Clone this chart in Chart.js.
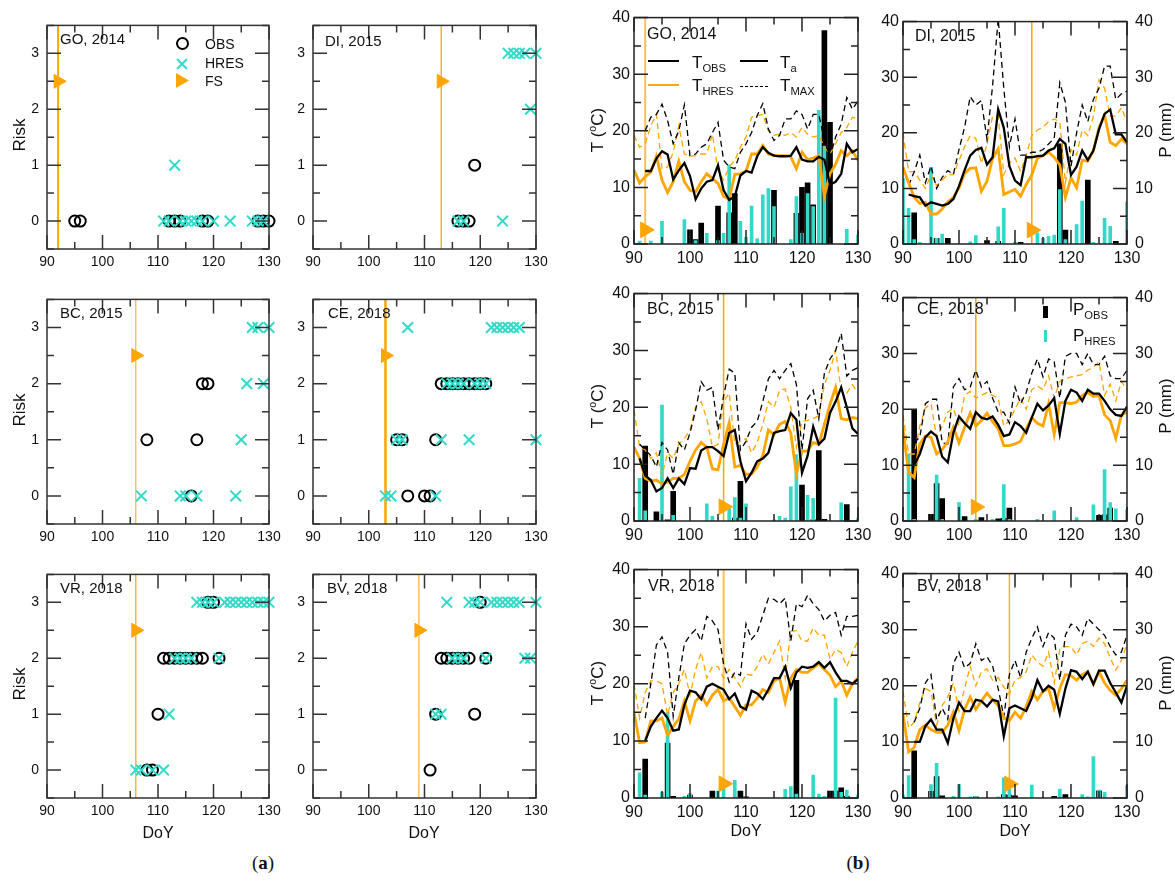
<!DOCTYPE html>
<html>
<head>
<meta charset="utf-8">
<title>Risk, temperature and precipitation</title>
<script src="https://cdn.jsdelivr.net/npm/chart.js@4.4.1/dist/chart.umd.min.js"></script>
<style>
  html, body { margin: 0; padding: 0; background: #fff; }
  #wrap { position: relative; width: 1175px; height: 881px; overflow: hidden;
          font-family: "Liberation Sans", Arial, Helvetica, sans-serif; color: #111; }
  #wrap canvas { position: absolute; }
  .lbl { position: absolute; white-space: nowrap; line-height: 1; z-index: 2; }
  .ctr { transform: translate(-50%, -50%); }
  .rot { transform: translate(-50%, -50%) rotate(-90deg); }
  .sw { position: absolute; z-index: 2; }
  sub { font-size: 0.66em; vertical-align: -0.35em; line-height: 0; }
  sup { font-size: 0.62em; vertical-align: 0.6em; line-height: 0; }
  .cap { font-family: "Liberation Serif", "Times New Roman", serif; }
</style>
</head>
<body>
<div id="wrap"></div>
<script>
const ORANGE = '#FFA500';
const CYAN = '#33D9C8';
const FONT = '"Liberation Sans", Arial, Helvetica, sans-serif';

// tick labels
const doyTicks = [90, 100, 110, 120, 130];
const riskTicks = [0, 1, 2, 3];
const tTicks = [0, 10, 20, 30, 40];

// ---------------- (a) risk levels: [DoY, risk] ----------------
const riskMin = -0.5, riskMax = 3.5;

const goFS = 92;
const goRiskObs  = [[95,0],[96,0],[112,0],[113,0],[114,0],[118,0],[119,0],[128,0],[129,0],[130,0]];
const goRiskHres = [[111,0],[112,0],[113,1],[114,0],[115,0],[116,0],[117,0],[118,0],[120,0],[123,0],[127,0],[128,0],[129,0]];

const diFS = 113;
const diRiskObs  = [[116,0],[117,0],[118,0],[119,1]];
const diRiskHres = [[116,0],[117,0],[124,0],[125,3],[126,3],[127,3],[128,3],[129,2],[130,3]];

const bcFS = 106;
const bcRiskObs  = [[108,1],[116,0],[117,1],[118,2],[119,2]];
const bcRiskHres = [[107,0],[114,0],[115,0],[117,0],[124,0],[125,1],[126,2],[127,3],[128,3],[129,2],[130,3]];

const ceFS = 103;
const ceRiskObs  = [[105,1],[106,1],[107,0],[110,0],[111,0],[112,1],[113,2],[114,2],[115,2],[116,2],[117,2],[118,2],[119,2],[120,2],[121,2]];
const ceRiskHres = [[103,0],[104,0],[105,1],[106,1],[107,3],[112,0],[113,1],[114,2],[115,2],[116,2],[117,2],[118,1],[119,2],[120,2],[121,2],[122,3],[123,3],[124,3],[125,3],[126,3],[127,3],[130,1]];

const vrFS = 106;
const vrRiskObs  = [[108,0],[109,0],[110,1],[111,2],[112,2],[113,2],[114,2],[115,2],[116,2],[117,2],[118,2],[119,3],[120,3],[121,2]];
const vrRiskHres = [[106,0],[107,0],[109,0],[111,0],[112,1],[113,2],[114,2],[115,2],[116,2],[117,3],[118,3],[119,3],[120,3],[121,2],[122,3],[123,3],[124,3],[125,3],[126,3],[127,3],[128,3],[129,3],[130,3]];

const bvFS = 109;
const bvRiskObs  = [[111,0],[112,1],[113,2],[114,2],[115,2],[116,2],[117,2],[118,2],[119,1],[120,3],[121,2]];
const bvRiskHres = [[112,1],[113,1],[114,3],[115,2],[116,2],[117,2],[118,3],[119,3],[120,3],[121,2],[122,3],[123,3],[124,3],[125,3],[126,3],[127,3],[128,2],[129,2],[130,3]];

// ---------------- (b) temperature (°C) per day, precipitation [DoY, mm] ----------------
const days = [90,91,92,93,94,95,96,97,98,99,100,101,102,103,104,105,106,107,108,109,110,
              111,112,113,114,115,116,117,118,119,120,121,122,123,124,125,126,127,128,129,130];

const goTobs  = [null,null,12.9,12.9,15.1,16.4,15.8,11.4,13.0,14.3,12.0,7.9,9.8,11.0,11.3,13.9,9.5,7.8,8.4,12.1,12.9,12.6,15.5,17.1,16.1,15.6,15.5,15.5,15.6,17.1,14.9,14.6,14.6,15.4,14.9,10.5,11.0,12.4,17.7,16.2,16.8];
const goThres = [13.1,10.8,11.9,12.7,15.5,11.3,9.1,11.0,14.6,11.0,9.5,9.2,11.0,12.4,11.6,10.7,8.4,7.9,12.3,12.4,12.9,15.9,15.9,17.4,15.9,15.6,15.6,15.6,15.4,13.3,16.2,14.9,15.2,15.6,8.5,12.4,14.1,16.5,15.6,16.5,14.8];
const goTmax  = [null,null,20.0,22.4,22.9,24.7,21.8,17.7,20.0,24.6,15.6,15.9,17.1,17.7,19.7,21.5,14.8,13.6,13.3,16.2,17.7,19.7,22.7,24.8,20.3,18.3,19.2,22.1,22.1,23.5,22.9,20.3,22.9,22.9,18.3,15.4,18.9,21.2,25.9,23.8,25.3];
const goThmax = [19.2,17.1,17.7,20.9,22.9,13.3,13.6,16.2,20.9,15.9,15.5,15.6,15.9,15.9,19.4,13.0,11.3,13.6,14.8,17.1,18.9,22.4,22.7,22.9,20.0,19.2,19.4,19.2,19.7,18.9,20.6,19.4,18.9,19.2,17.1,15.9,17.7,19.7,20.6,22.4,22.1];
const goPobs  = [[100,2.5],[101,0.8],[102,3.7],[105,6.7],[107,5.5],[108,8.9],[115,9.5],[119,5.4],[120,10.0],[121,10.8],[122,6.9],[124,37.7],[125,21.5]];
const goPhres = [[91,0.5],[93,0.5],[95,4.0],[99,4.3],[101,0.6],[103,1.9],[105,0.6],[106,1.9],[107,14.0],[109,4.0],[110,1.2],[111,6.7],[112,0.9],[113,8.7],[114,9.8],[115,6.6],[118,0.8],[119,8.4],[120,1.9],[121,8.9],[122,6.6],[123,23.6],[124,17.3],[128,2.6],[130,1.6]];

const diTobs  = [null,8.9,8.6,8.4,6.9,7.5,7.2,6.9,7.2,8.1,10.4,13.3,15.9,16.9,17.3,14.3,15.6,24.2,20.9,14.0,11.4,10.6,15.6,15.6,15.8,15.9,16.8,17.2,18.9,18.0,12.4,13.9,16.8,15.1,16.8,20.6,23.4,24.2,19.7,19.7,18.3];
const diThres = [13.8,11.0,8.4,7.3,7.5,5.4,5.4,6.3,7.6,8.4,10.1,12.7,13.6,13.7,9.5,11.3,15.4,17.1,8.9,9.4,9.8,8.6,10.7,12.4,15.4,15.9,16.5,15.6,14.2,8.4,11.9,10.1,15.1,14.9,16.8,20.9,23.2,18.3,17.7,18.9,18.0];
const diTmax  = [null,10.5,13,16,11,14,10,12,13.2,12.5,17,21,26.5,25,25.8,18.8,28.5,40.5,28,17.5,22.5,16,16,16.5,16.5,17,18,19,29,25.5,14,20,25,22,26,28,32,32,26,27,27.5];
const diThmax = [20,13,13,11.5,10,12.5,10.5,11.5,12.5,12.5,15,17.5,19.5,19,14.5,18,23,23,12.5,14.5,15.5,13,16,19.5,20.5,21,22,22.5,22,11,17,16,20.5,19.5,23,29.5,28,23,23,24.5,22];
const diPobs  = [[92,5.6],[96,1.0],[98,1.0],[105,0.6],[107,0.5],[111,0.3],[118,18.0],[119,2.5],[123,11.5],[128,0.5]];
const diPhres = [[90,11.8],[91,6.4],[92,0.8],[93,0.3],[95,13.8],[96,1.0],[97,1.8],[102,0.4],[103,1.5],[107,3.1],[108,6.4],[110,0.3],[114,2.0],[115,1.0],[116,1.4],[117,1.6],[118,9.8],[119,0.8],[121,3.5],[122,7.7],[124,0.3],[126,4.6],[127,3.2],[130,7.6]];

const bcTobs  = [null,11,8,7.2,5.2,5.8,7.5,5.8,7.5,6.5,9.3,9.2,12.4,13,13,12.3,11.4,15.5,16,10.5,7,8.5,10.5,11,12,15.5,15.8,16,19,17.8,8.5,11.5,16.6,13.5,14.5,19,21,23.5,20,16.3,15.3];
const bcThres = [13,11,7.5,7.0,7.2,6.5,6.8,7.5,7.5,8.2,10.5,12.5,13.8,13,9.2,9.0,13.5,17.3,9.5,9.8,8.2,8.3,9.5,11.5,16,15.2,17,17.5,15.5,8.2,12.3,12.3,13.8,13.5,17,20.5,23.5,18,17.8,18.2,18];
const bcTmax  = [null,13.5,12.5,11.5,9.5,13.8,12.5,8.2,13.8,12.5,15.5,19.5,24.5,23,23.5,16,22,26.7,26,12.5,14,16.5,17.5,21,25,26.5,25,26.5,27.7,24,12.5,21.5,23,18,26,28.5,30,33,25.5,26.5,27];
const bcThmax = [19.5,13,12.5,11,12,8,12,11,13.5,14.5,16,20,21,18,13,13.5,21,22.5,13.5,14,14.5,12,13.8,17,21,20,23,23.2,20,13,17.5,17.7,18,18.5,24,26.5,30,23,22.5,24,22.5];
const bcPobs  = [[92,13.2],[94,1.6],[96,0.2],[97,5.2],[108,0.5],[109,7.0],[120,6.3],[122,0.2],[123,12.4],[124,0.3],[128,2.9]];
const bcPhres = [[91,7.5],[92,1.8],[95,20.4],[97,1.0],[103,3.0],[104,0.8],[107,2.2],[108,4.1],[109,0.5],[110,3.0],[115,0.2],[116,0.8],[117,0.5],[118,6.0],[119,11.7],[121,4.5],[122,4.0],[127,3.2],[130,0.5]];

const ceTobs  = [null,null,10,12,15,16,15.2,11.5,10.5,15.8,18.7,17.5,16.5,19.5,18.5,18.2,18.7,17.2,15.2,15.5,17.7,17,15.8,18.5,21,19.8,20.7,22,15.6,21.5,23.5,23,21.5,23.5,22.8,22.8,21.5,20,19,18.8,20.5];
const ceThres = [16.5,8.7,7.8,13.8,15.2,15,12,12.8,14.2,16.8,14,16.8,19.3,17,18,19.3,17.8,16.5,13.5,13.5,13.8,14.3,16.5,18.5,17.5,17,21,15.5,21.2,21.2,21,21.3,22.5,23,22.3,22.5,19,18,14.8,19,19.5];
const ceTmax  = [null,null,14,15,21,21.8,21.8,14,13.8,24,25.5,23.5,24,27,24,25,22,19.5,19.5,17.5,24,21,23,26.5,29,25.8,29,28.5,22,29.5,30,30,28,30,28,28,29.5,26,25.5,25.5,27];
const ceThmax = [19,12,12,17,20.2,21,15,17,19.5,20.2,17,22.5,23.2,22,22.5,23,22.5,22,17,18,20,22,20,23.5,24.2,23.5,26,22,25,25.5,25.8,26,26.2,27,27.5,28.5,22.5,24.5,21.5,25,23.5];
const cePobs  = [[92,20],[95,1.2],[96,6.7],[97,4.0],[101,0.8],[104,0.6],[107,0.4],[108,0.5],[109,2.3],[125,1.0],[126,1.1],[127,2.3]];
const cePhres = [[91,12],[92,0.3],[96,8.2],[97,0.3],[100,3.3],[103,0.3],[106,0.3],[108,6.5],[109,0.3],[114,0.3],[117,1.8],[121,0.6],[124,2.9],[126,9.2],[127,3.3],[128,2.2],[130,2.0]];

const vrTobs  = [null,null,10,12.5,14,15.3,14,11.8,12,16.3,18.8,18.5,17.3,19.5,20,19.5,19,17.3,18.3,16,15.5,18.8,18.3,17.3,19,21,21,23,19.3,22,23,22.8,23,23.8,22.8,23.8,22,20.5,20.5,20,20.8];
const vrThres = [15,9.7,9.8,13.5,13.5,14,11,12.5,13.8,17,13.5,17,18,16.3,18,19,17,17.5,16,14.5,16.3,16.3,17.5,19,18.5,20.5,21,16.8,21,22.5,22,22,22.8,23.5,22.5,21.5,19.5,20.5,18,20,21];
const vrTmax  = [null,null,14,20,26.8,28.2,25.5,14.3,21,27,28.5,29.5,27.5,31.8,31,29.5,23.5,20.3,22,21.5,30.5,27.8,29,32,35,34.8,34,35,27.5,34,33.5,35.5,34,33,31,32,32.5,28.5,31.8,31.8,32];
const vrThmax = [20,14,18.5,20.5,20.5,20,14.5,18.5,20,22.5,18,22.5,25.5,21,23,23,21,22.5,21,19.5,21.7,21.5,23,25.2,23.5,25.5,27.5,21,29.2,29.3,27.5,27.5,29.8,28.5,28.5,24.3,26,25.5,23,25.5,27.5];
const vrPobs  = [[92,6.8],[96,9.6],[97,0.3],[100,0.5],[104,1.2],[109,1.2],[110,0.2],[119,20.6],[125,1.2],[126,1.2],[127,1.8],[128,0.3]];
const vrPhres = [[91,4.4],[92,0.5],[95,1.0],[96,15],[99,0.3],[100,0.8],[105,1.2],[106,2.2],[108,3.1],[117,1.5],[118,2.0],[119,0.7],[122,4.0],[123,0.7],[124,0.3],[126,17.5],[127,1.0],[128,1.4],[130,0.5]];

const bvTobs  = [null,null,10,10,12.8,14,12.2,12.2,9.8,14.2,17,15.5,15.5,17.5,17.3,16.3,17.5,17.2,11,16,16.5,16,15.5,17.8,21,19,20,19.3,15,19.5,22.8,22.5,21.2,22.5,20.3,22.7,22.7,20.5,18.8,17,20];
const bvThres = [15,8.2,9,12.2,13,12.2,11.7,11.7,13,15.3,12,15.8,18,15.8,17.3,18.7,17.5,16.5,14.3,13.8,15.3,14.2,16.3,19,17.5,19,19.5,16,19.5,22,21.8,21,22,22.5,20.3,22.5,20.5,19.2,18.3,19.5,21];
const bvTmax  = [null,null,13.5,16,20.5,22,14,16,14,24,26,23.2,24,27.5,24.5,25.2,23.5,19.5,14.5,22,24.5,21.5,26,28.5,30.5,27,29.5,28.5,21,29,31,30.5,29,32,31,30,29,27,25.5,26,29];
const bvThmax = [19,12.5,13.5,17,19.5,19,13,16.5,18,20.5,15.5,19.5,23.5,20,22.5,23,21,21.5,19.8,18.5,21,21.5,22.5,25.5,24.2,23.5,26,20.5,26.5,27,27,25.5,27.5,28,27,28.5,27.5,25,22.8,24.5,27.5];
const bvPobs  = [[92,8.4],[95,1.2],[96,3.8],[97,0.4],[103,0.2],[108,0.6],[109,0.5],[110,0.4],[117,0.3],[119,0.6],[125,1.3]];
const bvPhres = [[90,0.5],[91,4.0],[95,2.4],[96,6.2],[99,0.3],[100,2.4],[102,0.2],[103,0.3],[107,0.2],[108,3.6],[109,2.1],[113,2.3],[118,1.6],[122,0.6],[123,0.2],[124,7.4],[125,1.4],[126,1.0],[130,2.2]];

const tMin = 0, tMax = 40;
const fsMarkRisk = 2.5, fsMarkT = 2.5;

// ---------------------------------------------------------------------
Chart.defaults.font.family = FONT;
Chart.defaults.color = '#111';

function isMajor(v, step) {
  const r = v / step;
  return Math.abs(r - Math.round(r)) < 1e-6;
}

// closed frame with inward major/minor ticks on all four sides
const framePlugin = {
  id: 'frame',
  afterDraw(chart, args, o) {
    if (!o || !o.on) return;
    const ctx = chart.ctx, a = chart.chartArea;
    const xs = chart.scales.x, ys = chart.scales.y;
    ctx.save();
    ctx.strokeStyle = o.color;
    ctx.lineWidth = o.width;
    ctx.beginPath();
    for (let v = xs.min; v <= xs.max + 1e-9; v += o.xMinor) {
      const p = xs.getPixelForValue(v);
      const len = isMajor(v, o.xMajor) ? o.major : o.minor;
      ctx.moveTo(p, a.bottom); ctx.lineTo(p, a.bottom - len);
      ctx.moveTo(p, a.top); ctx.lineTo(p, a.top + len);
    }
    for (let v = ys.min; v <= ys.max + 1e-9; v += o.yMinor) {
      const p = ys.getPixelForValue(v);
      const len = isMajor(v, o.yMajor) ? o.major : o.minor;
      ctx.moveTo(a.left, p); ctx.lineTo(a.left + len, p);
      ctx.moveTo(a.right, p); ctx.lineTo(a.right - len, p);
    }
    ctx.stroke();
    ctx.strokeRect(a.left, a.top, a.right - a.left, a.bottom - a.top);
    ctx.restore();
  }
};
Chart.register(framePlugin);

const wrap = document.getElementById('wrap');

function addCanvas(box, L, R, T, B) {
  const c = document.createElement('canvas');
  c.width = box.w + L + R;
  c.height = box.h + T + B;
  c.style.left = (box.x - L) + 'px';
  c.style.top = (box.y - T) + 'px';
  c.style.width = c.width + 'px';
  c.style.height = c.height + 'px';
  wrap.appendChild(c);
  return c;
}

function pts(pairs) {
  return pairs.map(p => ({x: p[0], y: p[1]}));
}

function series(vals) {
  return vals.map((v, i) => ({x: days[i], y: v}));
}

function xScale(size, B, pad) {
  return {
    type: 'linear', min: 90, max: 130, offset: false,
    grid: {display: false, drawTicks: false}, border: {display: false},
    ticks: {padding: pad, font: {size: size}, color: '#111', maxRotation: 0, autoSkip: false},
    afterBuildTicks: s => { s.ticks = doyTicks.map(v => ({value: v})); },
    afterFit: s => { s.height = B; }
  };
}

function yScale(min, max, list, size, W, pad, pos) {
  return {
    type: 'linear', position: pos, min: min, max: max,
    grid: {display: false, drawTicks: false}, border: {display: false},
    ticks: {padding: pad, font: {size: size}, color: '#111', autoSkip: false},
    afterBuildTicks: s => { s.ticks = list.map(v => ({value: v})); },
    afterFit: s => { s.width = W; }
  };
}

// ---------------- (a) ----------------
function riskChart(box, obs, hres, fs, fsWidth) {
  const L = 46, R = 22, T = 12, B = 30;
  const c = addCanvas(box, L, R, T, B);
  new Chart(c, {
    type: 'scatter',
    data: {
      datasets: [
        {data: [{x: fs, y: riskMin}, {x: fs, y: riskMax}], showLine: true, borderColor: ORANGE,
         borderWidth: fsWidth, pointRadius: 0, order: 5},
        {data: pts(obs), pointStyle: 'circle', pointRadius: 5.5, borderColor: '#000', borderWidth: 2,
         backgroundColor: 'rgba(0,0,0,0)', clip: false, order: 3},
        {data: pts(hres), pointStyle: 'crossRot', pointRadius: 7.5, borderColor: CYAN, borderWidth: 2,
         clip: false, order: 2},
        {data: [{x: fs, y: fsMarkRisk}], pointStyle: 'triangle', rotation: 90, pointRadius: 8,
         backgroundColor: ORANGE, borderColor: ORANGE, borderWidth: 1, clip: false, order: 1}
      ]
    },
    options: {
      responsive: false, animation: false, devicePixelRatio: 1, events: [],
      layout: {padding: {left: 0, right: R, top: T, bottom: 0}},
      plugins: {
        legend: {display: false}, tooltip: {enabled: false},
        frame: {on: true, color: '#333', width: 1.5, xMinor: 5, xMajor: 10, yMinor: 0.5, yMajor: 1, major: 14, minor: 7}
      },
      scales: {
        x: xScale(14, B, 5),
        y: yScale(riskMin, riskMax, riskTicks, 14, L, 8, 'left')
      }
    }
  });
}

riskChart({x: 47,  y: 21,  w: 222, h: 228}, goRiskObs, goRiskHres, goFS, 2);
riskChart({x: 313, y: 21,  w: 223, h: 228}, diRiskObs, diRiskHres, diFS, 1.3);
riskChart({x: 47,  y: 295, w: 222, h: 229}, bcRiskObs, bcRiskHres, bcFS, 1);
riskChart({x: 313, y: 295, w: 223, h: 229}, ceRiskObs, ceRiskHres, ceFS, 2.5);
riskChart({x: 47,  y: 570, w: 222, h: 228}, vrRiskObs, vrRiskHres, vrFS, 1.2);
riskChart({x: 313, y: 570, w: 223, h: 228}, bvRiskObs, bvRiskHres, bvFS, 1);

// ---------------- (b) ----------------
function tempChart(box, tobs, thres, tmax, thmax, pobs, phres, fs, rightAxis, fsColor, fsWidth) {
  const L = 44, T = 12, B = 32, R = rightAxis ? 46 : 24;
  const c = addCanvas(box, L, R, T, B);
  const scales = {
    x: xScale(16, B, 5),
    y: yScale(tMin, tMax, tTicks, 16, L, 4, 'left')
  };
  if (rightAxis) scales.y2 = yScale(tMin, tMax, tTicks, 16, R, 8, 'right');
  new Chart(c, {
    type: 'line',
    data: {
      datasets: [
        {data: [{x: fs, y: tMin}, {x: fs, y: tMax}], borderColor: fsColor, borderWidth: fsWidth,
         pointRadius: 0, order: 9},
        {type: 'bar', data: pts(pobs), backgroundColor: '#000', barThickness: 5, grouped: false, order: 8},
        {type: 'bar', data: pts(phres), backgroundColor: CYAN, barThickness: 3, grouped: false, order: 7},
        {data: series(thmax), borderColor: ORANGE, borderWidth: 1.3, borderDash: [6, 4], pointRadius: 0, order: 6},
        {data: series(tmax), borderColor: '#000', borderWidth: 1.3, borderDash: [6, 4], pointRadius: 0, order: 5},
        {data: series(thres), borderColor: ORANGE, borderWidth: 2.8, pointRadius: 0, order: 4},
        {data: series(tobs), borderColor: '#000', borderWidth: 2.3, pointRadius: 0, order: 3},
        {data: [{x: fs, y: fsMarkT}], showLine: false, pointStyle: 'triangle', rotation: 90, pointRadius: 9,
         backgroundColor: ORANGE, borderColor: ORANGE, borderWidth: 1, clip: false, order: 0}
      ]
    },
    options: {
      responsive: false, animation: false, devicePixelRatio: 1, events: [],
      layout: {padding: {left: 0, right: rightAxis ? 0 : R, top: T, bottom: 0}},
      plugins: {
        legend: {display: false}, tooltip: {enabled: false},
        frame: {on: true, color: '#222', width: 1.5, xMinor: 5, xMajor: 10, yMinor: 5, yMajor: 10, major: 14, minor: 7}
      },
      scales: scales
    }
  });
}

tempChart({x: 634, y: 16,  w: 224, h: 228}, goTobs, goThres, goTmax, goThmax, goPobs, goPhres, goFS, false, '#FFBE55', 2);
tempChart({x: 903, y: 16,  w: 224, h: 228}, diTobs, diThres, diTmax, diThmax, diPobs, diPhres, diFS, true, ORANGE, 1.5);
tempChart({x: 634, y: 292, w: 224, h: 229}, bcTobs, bcThres, bcTmax, bcThmax, bcPobs, bcPhres, bcFS, false, ORANGE, 1.5);
tempChart({x: 903, y: 292, w: 224, h: 229}, ceTobs, ceThres, ceTmax, ceThmax, cePobs, cePhres, ceFS, true, ORANGE, 1.5);
tempChart({x: 634, y: 568, w: 224, h: 230}, vrTobs, vrThres, vrTmax, vrThmax, vrPobs, vrPhres, vrFS, false, '#FFBE55', 2);
tempChart({x: 903, y: 568, w: 224, h: 230}, bvTobs, bvThres, bvTmax, bvThmax, bvPobs, bvPhres, bvFS, true, '#FFB020', 1.5);

// ---------------- text ----------------
function lbl(html, x, y, size, cls) {
  const d = document.createElement('div');
  d.className = 'lbl' + (cls ? ' ' + cls : '');
  d.style.left = x + 'px';
  d.style.top = y + 'px';
  d.style.fontSize = size + 'px';
  d.innerHTML = html;
  wrap.appendChild(d);
  return d;
}

function swatch(x, y, w, h, css) {
  const d = document.createElement('div');
  d.className = 'sw';
  d.style.left = x + 'px';
  d.style.top = y + 'px';
  d.style.width = w + 'px';
  d.style.height = h + 'px';
  d.style.cssText += css;
  wrap.appendChild(d);
  return d;
}

// panel names
lbl('GO, 2014', 60, 31, 15);
lbl('DI, 2015', 325, 33, 15);
lbl('BC, 2015', 60, 305, 15);
lbl('CE, 2018', 328, 305, 15);
lbl('VR, 2018', 60, 580, 15);
lbl('BV, 2018', 327, 580, 15);
lbl('GO, 2014', 647, 26, 16);
lbl('DI, 2015', 915, 28, 16);
lbl('BC, 2015', 647, 301, 16);
lbl('CE, 2018', 917, 301, 16);
lbl('VR, 2018', 648, 578, 16);
lbl('BV, 2018', 917, 578, 16);

// axis titles
[135, 410, 684].forEach(y => lbl('Risk', 19, y, 17, 'rot'));
[130, 406, 683].forEach(y => lbl('T (<sup>o</sup>C)', 597, y, 17, 'rot'));
[130, 406, 683].forEach(y => lbl('P (mm)', 1165, y, 17, 'rot'));
lbl('DoY', 158, 833, 16, 'ctr');
lbl('DoY', 424, 833, 16, 'ctr');
lbl('DoY', 746, 831, 16, 'ctr');
lbl('DoY', 1015, 831, 16, 'ctr');

// captions
lbl('(<b>a</b>)', 263, 862, 19, 'ctr cap');
lbl('(<b>b</b>)', 858, 862, 19, 'ctr cap');

// legend (a)
swatch(176, 37, 13, 13, 'box-sizing:border-box;border:2px solid #000;border-radius:50%;');
const cross = swatch(176, 56, 12, 12, '');
cross.innerHTML = '<svg width="12" height="12"><path d="M1 1L11 11M11 1L1 11" stroke="' + CYAN + '" stroke-width="2"/></svg>';
const tri = swatch(176, 73, 13, 15, '');
tri.innerHTML = '<svg width="13" height="15"><path d="M0 0L13 7.5L0 15Z" fill="' + ORANGE + '"/></svg>';
lbl('OBS', 205, 37, 14);
lbl('HRES', 205, 56, 14);
lbl('FS', 205, 74, 14);

// legend (b) temperature
swatch(648, 60, 31, 0, 'border-top:2.3px solid #000;');
lbl('T<sub>OBS</sub>', 692, 54, 17);
swatch(740, 60, 28, 0, 'border-top:2.3px solid #000;');
lbl('T<sub>a</sub>', 780, 54, 17);
swatch(648, 84, 31, 0, 'border-top:2.8px solid ' + ORANGE + ';');
lbl('T<sub>HRES</sub>', 692, 77, 17);
swatch(740, 86, 28, 0, 'border-top:1.3px dashed #000;');
lbl('T<sub>MAX</sub>', 780, 77, 17);

// legend (b) precipitation
swatch(1043, 306, 5, 12, 'background:#000;');
lbl('P<sub>OBS</sub>', 1073, 301, 17);
swatch(1044, 330, 3, 12, 'background:' + CYAN + ';');
lbl('P<sub>HRES</sub>', 1073, 327, 17);
</script>
</body>
</html>
